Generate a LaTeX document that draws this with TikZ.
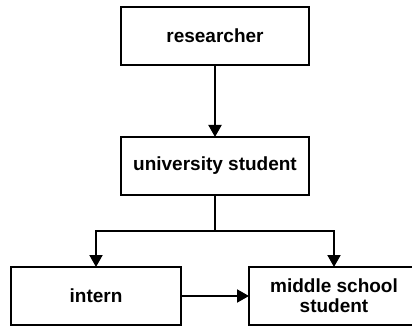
\documentclass[tikz,border=0pt]{standalone}
\usepackage{fontspec}
\setmainfont{Liberation Sans}
\usetikzlibrary{arrows.meta}
\begin{document}
\begin{tikzpicture}[x=1pt,y=-1pt,
  box/.style={draw=black, line width=2pt, minimum width=#1, minimum height=58pt, inner sep=0pt, outer sep=0pt, align=center,
    font=\fontsize{19}{20}\selectfont\bfseries, anchor=north west},
  box/.default=188pt,
  conn/.style={line width=2pt, -{Triangle[length=12pt,width=13pt]}},
  line/.style={line width=2pt}]
\useasboundingbox (0,0) rectangle (412,326);
\clip (0,0) rectangle (412,326);
\fill[white] (0,0) rectangle (412,326);
\node[box] (r) at (121,7) {researcher};
\node[box] (u) at (121,137) {university student};
\node[box=170pt] (i) at (11,267) {intern};
\node[box=170pt] (m) at (249,267) {middle school\\student};
\coordinate (j) at (215,231);
\draw[conn] (r.south) -- (u.north);
\draw[line] (u.south) -- (j);
\draw[conn] (j) -| (i.north);
\draw[conn] (j) -| (m.north);
\draw[conn] (i.east) -- (m.west);
\end{tikzpicture}
\end{document}
